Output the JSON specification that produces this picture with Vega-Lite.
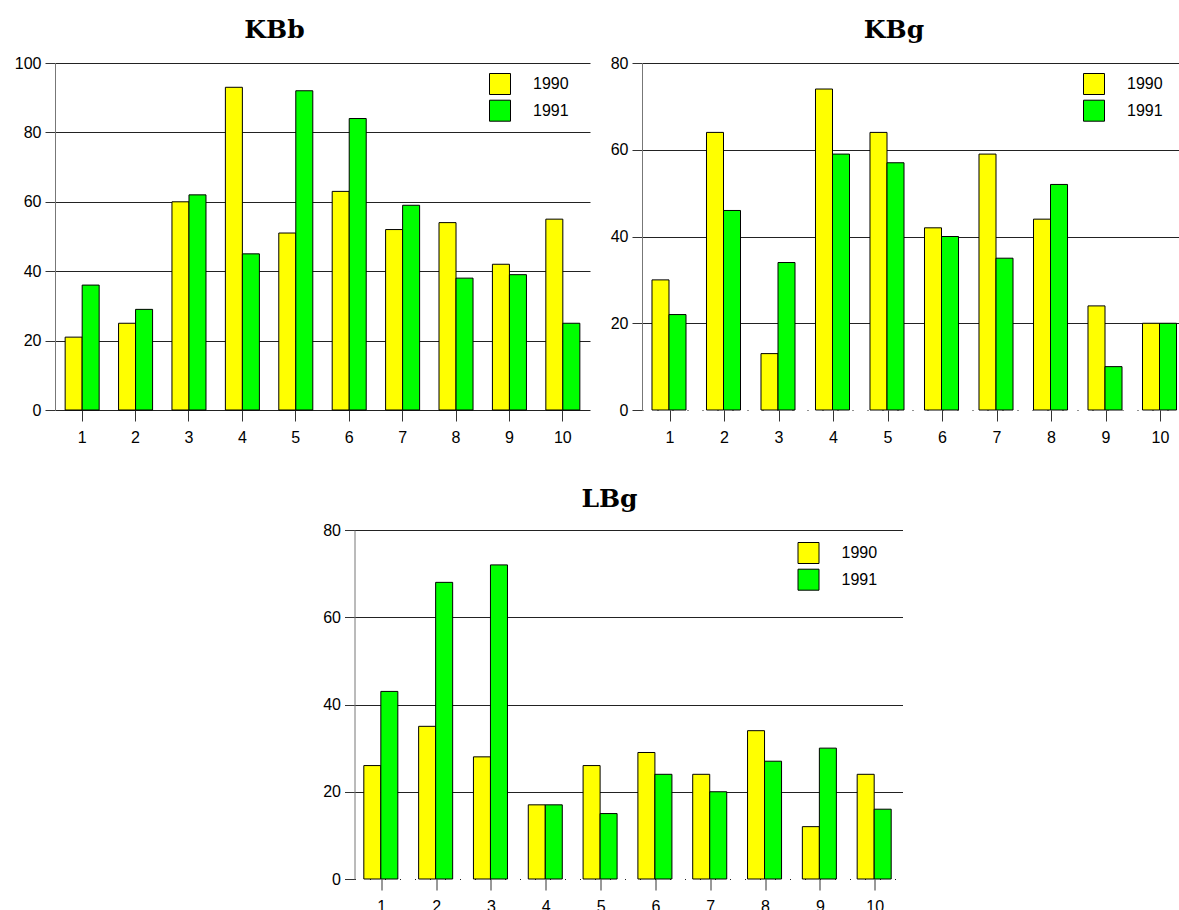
{
  "$schema": "https://vega.github.io/schema/vega-lite/v6.json",
  "padding": {"left": 14, "top": 18, "right": 0, "bottom": 0},
  "background": "white",
  "datasets": {
    "kbb": [
      {"cat": 1, "year": "1990", "v": 21}, {"cat": 1, "year": "1991", "v": 36},
      {"cat": 2, "year": "1990", "v": 25}, {"cat": 2, "year": "1991", "v": 29},
      {"cat": 3, "year": "1990", "v": 60}, {"cat": 3, "year": "1991", "v": 62},
      {"cat": 4, "year": "1990", "v": 93}, {"cat": 4, "year": "1991", "v": 45},
      {"cat": 5, "year": "1990", "v": 51}, {"cat": 5, "year": "1991", "v": 92},
      {"cat": 6, "year": "1990", "v": 63}, {"cat": 6, "year": "1991", "v": 84},
      {"cat": 7, "year": "1990", "v": 52}, {"cat": 7, "year": "1991", "v": 59},
      {"cat": 8, "year": "1990", "v": 54}, {"cat": 8, "year": "1991", "v": 38},
      {"cat": 9, "year": "1990", "v": 42}, {"cat": 9, "year": "1991", "v": 39},
      {"cat": 10, "year": "1990", "v": 55}, {"cat": 10, "year": "1991", "v": 25}
    ],
    "kbg": [
      {"cat": 1, "year": "1990", "v": 30}, {"cat": 1, "year": "1991", "v": 22},
      {"cat": 2, "year": "1990", "v": 64}, {"cat": 2, "year": "1991", "v": 46},
      {"cat": 3, "year": "1990", "v": 13}, {"cat": 3, "year": "1991", "v": 34},
      {"cat": 4, "year": "1990", "v": 74}, {"cat": 4, "year": "1991", "v": 59},
      {"cat": 5, "year": "1990", "v": 64}, {"cat": 5, "year": "1991", "v": 57},
      {"cat": 6, "year": "1990", "v": 42}, {"cat": 6, "year": "1991", "v": 40},
      {"cat": 7, "year": "1990", "v": 59}, {"cat": 7, "year": "1991", "v": 35},
      {"cat": 8, "year": "1990", "v": 44}, {"cat": 8, "year": "1991", "v": 52},
      {"cat": 9, "year": "1990", "v": 24}, {"cat": 9, "year": "1991", "v": 10},
      {"cat": 10, "year": "1990", "v": 20}, {"cat": 10, "year": "1991", "v": 20}
    ],
    "lbg": [
      {"cat": 1, "year": "1990", "v": 26}, {"cat": 1, "year": "1991", "v": 43},
      {"cat": 2, "year": "1990", "v": 35}, {"cat": 2, "year": "1991", "v": 68},
      {"cat": 3, "year": "1990", "v": 28}, {"cat": 3, "year": "1991", "v": 72},
      {"cat": 4, "year": "1990", "v": 17}, {"cat": 4, "year": "1991", "v": 17},
      {"cat": 5, "year": "1990", "v": 26}, {"cat": 5, "year": "1991", "v": 15},
      {"cat": 6, "year": "1990", "v": 29}, {"cat": 6, "year": "1991", "v": 24},
      {"cat": 7, "year": "1990", "v": 24}, {"cat": 7, "year": "1991", "v": 20},
      {"cat": 8, "year": "1990", "v": 34}, {"cat": 8, "year": "1991", "v": 27},
      {"cat": 9, "year": "1990", "v": 12}, {"cat": 9, "year": "1991", "v": 30},
      {"cat": 10, "year": "1990", "v": 24}, {"cat": 10, "year": "1991", "v": 16}
    ]
  },
  "vconcat": [
    {
      "hconcat": [
        {
          "data": {"name": "kbb"},
          "width": 535,
          "height": 347,
          "title": {"text": "KBb", "dx": -48, "offset": 12},
          "mark": {"type": "bar", "stroke": "black", "strokeWidth": 1, "fillOpacity": 1},
          "encoding": {
            "x": {"field": "cat", "type": "ordinal", "scale": {"paddingInner": 0.363, "paddingOuter": 0.19}, "axis": {"title": null, "labelAngle": 0, "tickSize": 11, "labelPadding": 8, "domain": false, "grid": false}},
            "xOffset": {"field": "year", "type": "nominal"},
            "y": {"field": "v", "type": "quantitative", "scale": {"domain": [0, 100]}, "axis": {"title": null, "values": [0, 20, 40, 60, 80, 100], "grid": true}},
            "color": {"field": "year", "type": "nominal", "scale": {"range": ["#FFFF00", "#00FF00"]}, "legend": {"orient": "none", "legendX": 434, "legendY": 10}}
          }
        },
        {
          "data": {"name": "kbg"},
          "width": 560,
          "height": 347,
          "title": {"text": "KBg", "dx": -28, "offset": 12},
          "mark": {"type": "bar", "stroke": "black", "strokeWidth": 1, "fillOpacity": 1},
          "encoding": {
            "x": {"field": "cat", "type": "ordinal", "scale": {"paddingInner": 0.339, "paddingOuter": 0.307, "align": 0.2985}, "axis": {"title": null, "labelAngle": 0, "tickSize": 11, "labelPadding": 8, "domain": false, "grid": false}},
            "xOffset": {"field": "year", "type": "nominal"},
            "y": {"field": "v", "type": "quantitative", "scale": {"domain": [0, 80]}, "axis": {"title": null, "values": [0, 20, 40, 60, 80], "grid": true, "gridDash": {"condition": {"test": "datum.value === 0", "value": [1, 14]}, "value": []}}},
            "color": {"field": "year", "type": "nominal", "scale": {"range": ["#FFFF00", "#00FF00"]}, "legend": {"orient": "none", "legendX": 441, "legendY": 10}}
          }
        }
      ],
      "spacing": 20,
      "resolve": {"scale": {"color": "independent"}, "legend": {"color": "independent"}}
    },
    {
      "data": {"name": "lbg"},
      "width": 548,
      "height": 349,
      "title": {"text": "LBg", "dx": -19, "offset": 10},
      "mark": {"type": "bar", "stroke": "black", "strokeWidth": 1, "fillOpacity": 1},
      "encoding": {
        "x": {"field": "cat", "type": "ordinal", "scale": {"paddingInner": 0.343, "paddingOuter": 0.17}, "axis": {"title": null, "labelAngle": 0, "tickSize": 11, "labelPadding": 8, "domain": false, "grid": false}},
        "xOffset": {"field": "year", "type": "nominal"},
        "y": {"field": "v", "type": "quantitative", "scale": {"domain": [0, 80]}, "axis": {"title": null, "values": [0, 20, 40, 60, 80], "grid": true, "gridDash": {"condition": {"test": "datum.value === 0", "value": [1, 14]}, "value": []}}},
        "color": {"field": "year", "type": "nominal", "scale": {"range": ["#FFFF00", "#00FF00"]}, "legend": {"orient": "none", "legendX": 443, "legendY": 12}}
      }
    }
  ],
  "spacing": 42,
  "center": true,
  "resolve": {"scale": {"color": "independent"}, "legend": {"color": "independent"}},
  "config": {
    "view": {"stroke": null},
    "font": "Liberation Sans",
    "title": {"font": "DejaVu Serif", "fontSize": 25, "fontWeight": "bold", "color": "black", "anchor": "middle", "frame": "group", "baseline": "alphabetic"},
    "axis": {"labelFont": "Liberation Sans", "labelFontSize": 16, "labelColor": "black", "tickColor": "#333", "tickSize": 10, "gridColor": "#222", "gridOpacity": 1, "gridWidth": 1, "domainColor": "#777", "labelPadding": 4},
    "legend": {"title": null, "padding": 0, "symbolType": "square", "symbolSize": 441, "symbolStrokeColor": "black", "symbolStrokeWidth": 1, "symbolOpacity": 1, "labelFont": "Liberation Sans", "labelFontSize": 16, "labelColor": "black", "labelOffset": 22, "rowPadding": 0.7}
  }
}
